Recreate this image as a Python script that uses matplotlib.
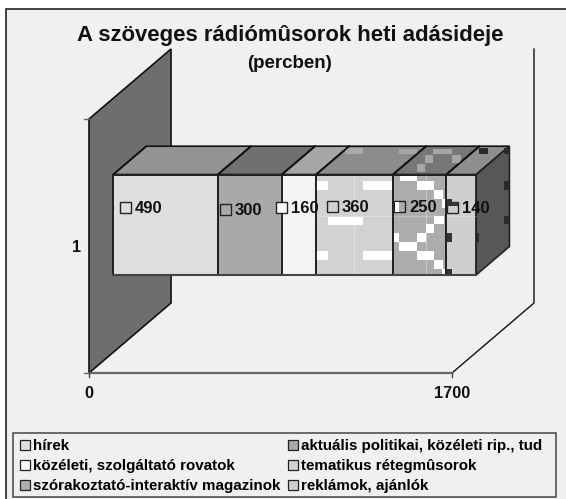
import matplotlib
matplotlib.use('Agg')
import matplotlib.pyplot as plt
from matplotlib.patches import Polygon, Rectangle, Patch

plt.rcParams['font.family'] = ['Liberation Sans', 'DejaVu Sans']
plt.rcParams['font.weight'] = 'bold'

# adatok
ertekek = [490, 300, 160, 360, 250, 140]
nevek = ['hírek', 'aktuális politikai, közéleti rip., tud',
         'közéleti, szolgáltató rovatok', 'tematikus rétegmûsorok',
         'szórakoztató-interaktív magazinok', 'reklámok, ajánlók']
szin_elol = ['#dedede', '#a9a9a9', '#f3f3f3', '#d2d2d2', '#acacac', '#cfcfcf']
szin_felul = ['#949494', '#707070', '#a6a6a6', '#8c8c8c', '#777777', '#8e8e8e']
szin_jel = ['#dedede', '#a9a9a9', '#f8f8f8', '#d2d2d2', '#acacac', '#cfcfcf']
tengely_max = 1700
cimke_dx = [12, 7.5, 0, 16, 7, 6]
cimke_dy = [33, 35, 33, 32, 32, 33]

# ferde vetites: ertek, magassag (0-1), melyseg (0-1) -> pixel
X0, Y0 = 89.0, 373.0
SX = 363.0 / tengely_max
H = 254.0
DX, DY = 82.0, 70.0
def vetit(v, h, d):
    return (X0 + v * SX + d * DX, Y0 - h * H - d * DY)

D1, D2 = 0.295, 0.70
H1, H2 = 0.305, 0.70

fig = plt.figure(figsize=(5.66, 4.99), dpi=100)
fig.patch.set_facecolor('white')
ax = fig.add_axes([0, 0, 1, 1])
ax.set_xlim(0, 566)
ax.set_ylim(499, 0)
ax.axis('off')

# hatter
ax.add_patch(Rectangle((6, 9), 570, 500, fc='#f0f0f0', ec='#222222', lw=1.2, zorder=0))

# fal es padlo
ax.add_patch(Polygon([vetit(0, 1, 0), vetit(0, 1, 1), vetit(0, 0, 1), vetit(0, 0, 0)],
                     fc='#6e6e6e', ec='#111111', lw=1.2, zorder=1))
p = [vetit(tengely_max, 0, 0), vetit(tengely_max, 0, 1), vetit(tengely_max, 1, 1)]
ax.plot([q[0] for q in p], [q[1] for q in p], color='#111111', lw=1, zorder=1)
p = [vetit(0, 0, 0), vetit(tengely_max, 0, 0)]
ax.plot([q[0] for q in p], [q[1] for q in p], color='#666666', lw=1.6, zorder=1)
for h in (0, 1):
    ax.plot([X0 - 5, X0], [Y0 - h * H] * 2, color='#666666', lw=1, zorder=1)
for v in (0, tengely_max):
    x = vetit(v, 0, 0)[0]
    ax.plot([x, x], [Y0, Y0 + 4], color='#444444', lw=1, zorder=1)

# mintazat a hasabokon (hasab bal felso sarkahoz kepest)
minta_elol = {
    3: ('white', [(0, 6, 12, 9), (47, 6, 29, 9), (12, 42, 35, 8), (0, 76, 12, 9), (47, 76, 29, 9)]),
    4: ('white', [(7, 1, 17, 5), (24, 6, 17, 9), (41, 15, 9, 9), (49, 24, 3, 9), (41, 41, 10, 8),
                  (33, 49, 8, 9), (24, 58, 9, 9), (1, 58, 5, 9), (6, 67, 18, 9), (24, 76, 17, 9),
                  (41, 85, 9, 9), (49, 94, 3, 7)]),
    5: ('#333333', [(0, 24, 6, 4), (0, 58, 6, 9), (0, 94, 6, 7)]),
}
minta_felul = {
    3: ('#aaaaaa', [(29, 147, 18, 7)]),
    4: ('#a6a6a6', [(6, 148, 18, 6), (40, 148, 19, 6), (32, 154, 8, 9), (24, 163, 8, 9), (59, 154, 9, 9)]),
    5: ('#2a2a2a', [(33, 147, 9, 7), (58, 147, 5, 7)]),
}

# hasabok
kezd = 0
for i, v in enumerate(ertekek):
    veg = kezd + v
    bal, fent = vetit(kezd, H2, D1)
    jobb, lent = vetit(veg, H1, D1)
    ax.add_patch(Polygon([vetit(kezd, H2, D1), vetit(kezd, H2, D2), vetit(veg, H2, D2), vetit(veg, H2, D1)],
                         fc=szin_felul[i], ec='#111111', lw=1.2, zorder=3))
    if i in minta_felul:
        c, cellak = minta_felul[i]
        for dx, y, w, h in cellak:
            ax.add_patch(Rectangle((bal + dx, y + 0.8), w, h - 0.8, fc=c, ec='none', zorder=3.2))
    ax.add_patch(Rectangle((bal, fent), jobb - bal, lent - fent, fc=szin_elol[i], ec='#222222', lw=1.3, zorder=4))
    if i in minta_elol:
        c, cellak = minta_elol[i]
        for dx, dy, w, h in cellak:
            ax.add_patch(Rectangle((bal + dx, fent + dy), w, h, fc=c, ec='none', zorder=4.2))
    ax.plot([bal, bal], [fent, lent], color='#222222', lw=1.3, zorder=4.5)
    ax.plot([bal, vetit(kezd, H2, D2)[0]], [fent, vetit(kezd, H2, D2)[1]], color='#111111', lw=1.2, zorder=4.5)
    # cimke
    xj = bal + cimke_dx[i]
    yj = fent + cimke_dy[i]
    ax.add_patch(Rectangle((xj - 5.5, yj - 5.5), 11, 11, fc=szin_jel[i], ec='#222222', lw=1, zorder=6))
    if i == 4:
        ax.add_patch(Rectangle((xj - 5, yj - 5), 4.5, 10, fc='white', ec='none', zorder=6.1))
    if i == 5:
        ax.add_patch(Rectangle((xj - 5.5, yj - 5.5), 11, 4, fc='#333333', ec='none', zorder=6.1))
    ax.text(xj + 9.5, yj + 0.5, str(v), fontsize=12, va='center', ha='left', color='#111111', zorder=6.2)
    kezd = veg

# jobb oldallap
ax.add_patch(Polygon([vetit(kezd, H2, D1), vetit(kezd, H2, D2), vetit(kezd, H1, D2), vetit(kezd, H1, D1)],
                     fc='#575757', ec='#222222', lw=1.2, zorder=3))
xj = vetit(kezd, 0, D1)[0]
for dx, y, w, h in [(28, 181, 5, 9), (28, 216, 5, 8), (0, 233, 3, 9)]:
    ax.add_patch(Rectangle((xj + dx, y), w, h, fc='#2a2a2a', ec='none', zorder=3.2))
ax.plot([vetit(0, H1, D1)[0], jobb], [lent, lent], color='#444444', lw=1.5, zorder=5)
ax.plot([vetit(0, H2, D1)[0], jobb], [fent, fent], color='#222222', lw=1.3, zorder=5)

# halvany racsvonalak a hasabokon
ax.plot([354, 354], [fent, lent], color='white', alpha=0.35, lw=0.8, zorder=4.3)
ax.plot([425.5, 425.5], [fent, lent], color='white', alpha=0.35, lw=0.8, zorder=4.3)
ax.plot([316, 476], [216, 216], color='white', alpha=0.25, lw=0.8, zorder=4.3)

# szovegek
ax.text(290, 35, 'A szöveges rádiómûsorok heti adásideje', fontsize=15.9, ha='center', va='center', color='#111111')
ax.text(290, 63, '(percben)', fontsize=13.5, ha='center', va='center', color='#111111')
ax.text(77, 247, '1', fontsize=11.7, ha='center', va='center', color='#111111')
ax.text(89, 394, '0', fontsize=11.7, ha='center', va='center', color='#111111')
ax.text(452, 394, str(tengely_max), fontsize=11.7, ha='center', va='center', color='#111111')

# jelmagyarazat: keret kulon, mert a dobozban jobbra ures hely marad
ax.add_patch(Rectangle((13, 433), 543, 64, fc='#f0f0f0', ec='#444444', lw=1.1, zorder=7))
jelek = [Patch(fc=szin_jel[i], ec='#222222', lw=0.9, label=nevek[i]) for i in (0, 2, 4, 1, 3, 5)]
lg = ax.legend(handles=jelek, ncol=2, loc='lower left', bbox_to_anchor=(20.0 / 566, 6.0 / 499),
               bbox_transform=ax.transAxes, borderaxespad=0, fontsize=10.9, frameon=False,
               handlelength=0.65, handleheight=0.65, handletextpad=0.2, columnspacing=0.5,
               labelspacing=0.38, borderpad=0)
lg.set_zorder(8)

fig.savefig('out.png', dpi=100, facecolor=fig.get_facecolor())
